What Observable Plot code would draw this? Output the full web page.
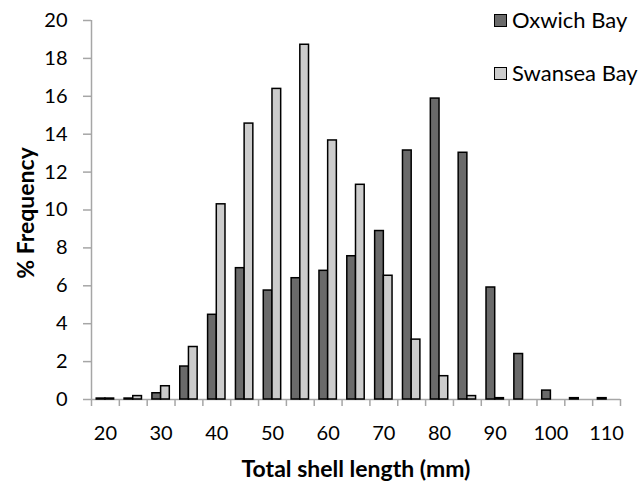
<!DOCTYPE html>
<html><head><meta charset="utf-8">
<script src="https://cdn.jsdelivr.net/npm/d3@7"></script>
<script src="https://cdn.jsdelivr.net/npm/@observablehq/plot@0.6"></script>
<style>
html,body{margin:0;padding:0;background:#fff;}
#wrap{position:relative;width:644px;height:482px;font-family:Lato,"Open Sans",sans-serif;}
.leg{position:absolute;left:494px;display:flex;align-items:center;font-size:22px;line-height:22px;color:#000;}
.sw{width:11px;height:11px;border:1.5px solid #000;margin-right:5px;}
</style></head>
<body><div id="wrap"></div>
<script>
const categories = [20,25,30,35,40,45,50,55,60,65,70,75,80,85,90,95,100,105,110];
const oxwich  = [0.05,0.05,0.33,1.74,4.47,6.93,5.75,6.40,6.79,7.56,8.89,13.14,15.88,13.02,5.91,2.40,0.47,0.07,0.07];
const swansea = [0.05,0.18,0.70,2.77,10.30,14.56,16.39,18.72,13.67,11.33,6.53,3.16,1.23,0.18,0.07,0,0,0,0];
const xTicks = [20,30,40,50,60,70,80,90,100,110];
const yTicks = [0,2,4,6,8,10,12,14,16,18,20];
const seriesNames = ["Oxwich Bay","Swansea Bay"];
const seriesColors = ["#6a6a6a","#cccccc"];

const W = 644, H = 482, mL = 91, mR = 24, mT = 20, mB = 83;
const step = (W - mL - mR) / categories.length;
const pad = 0.375;
const half = step * (1 - pad) / 2;
const axisGray = "#a6a6a6";

const oxRows = categories.map((c,i)=>({len:c, pct:oxwich[i]})).filter(d=>d.pct>0);
const swRows = categories.map((c,i)=>({len:c, pct:swansea[i]})).filter(d=>d.pct>0);

const chart = Plot.plot({
  width: W, height: H, marginLeft: mL, marginRight: mR, marginTop: mT, marginBottom: mB,
  style: {fontFamily: "Lato, 'Open Sans', sans-serif", color: "#000", background: "#fff"},
  x: {type: "band", domain: categories, paddingInner: pad, paddingOuter: pad/2, round: false},
  y: {domain: [0, 20]},
  marks: [
    Plot.ruleY([0], {stroke: axisGray, strokeWidth: 1.5}),
    Plot.ruleX([categories[0]], {x: d=>d, dx: -step/2, y1: 0, y2: 20, stroke: axisGray, strokeWidth: 1.5}),
    Plot.ruleX(categories, {x: d=>d, dx: -step/2, y1: 0, y2: -0.37, stroke: axisGray, strokeWidth: 1.5}),
    Plot.ruleX([categories[categories.length-1]], {x: d=>d, dx: step/2, y1: 0, y2: -0.37, stroke: axisGray, strokeWidth: 1.5}),
    Plot.axisY({ticks: yTicks, tickSize: 8, tickPadding: 16, stroke: axisGray, strokeWidth: 1.5, fontSize: 20, label: null}),
    Plot.axisX({ticks: xTicks, tickSize: 0, tickPadding: 26, fontSize: 20, label: null}),
    Plot.barY(oxRows, {x: "len", y: "pct", fill: seriesColors[0], stroke: "#000", strokeWidth: 1.5, insetRight: half}),
    Plot.barY(swRows, {x: "len", y: "pct", fill: seriesColors[1], stroke: "#000", strokeWidth: 1.5, insetLeft: half}),
    Plot.text(["Total shell length (mm)"], {frameAnchor: "bottom", textAnchor: "middle", lineAnchor: "middle", dy: 70, fontSize: 23, fontWeight: "bold", text: d=>d}),
    Plot.text(["% Frequency"], {frameAnchor: "left", textAnchor: "middle", lineAnchor: "middle", dx: -65, dy: 3, rotate: -90, fontSize: 23, fontWeight: "bold", text: d=>d})
  ]
});
const wrap = document.getElementById("wrap");
wrap.appendChild(chart);
const legTops = [9, 62];
seriesNames.forEach((n,i)=>{
  const d = document.createElement("div");
  d.className = "leg"; d.style.top = legTops[i] + "px";
  const s = document.createElement("div"); s.className = "sw"; s.style.background = seriesColors[i];
  d.appendChild(s); d.appendChild(document.createTextNode(n));
  wrap.appendChild(d);
});
</script></body></html>
